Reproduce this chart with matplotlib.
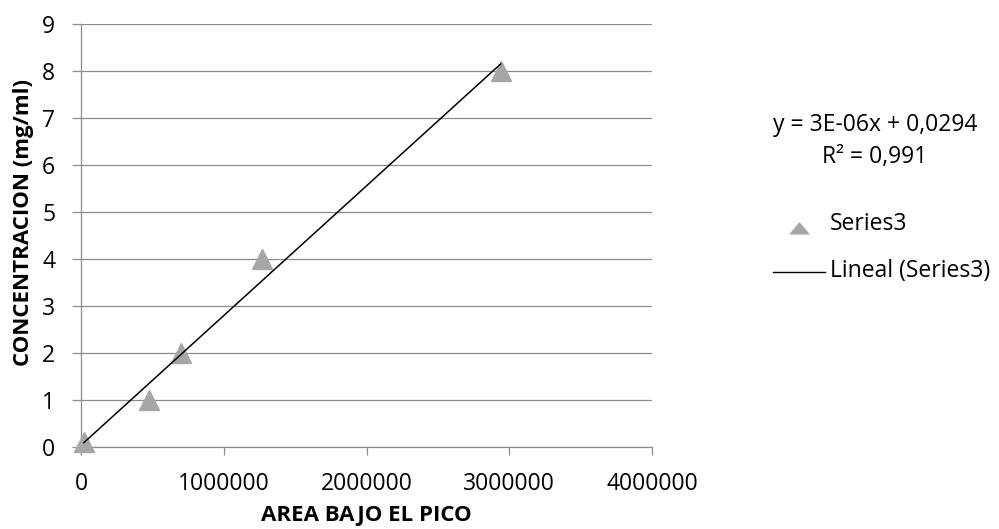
import numpy as np
import matplotlib.pyplot as plt
from matplotlib.lines import Line2D

plt.rcParams['font.family'] = ['Open Sans', 'DejaVu Sans']

# calibration points: peak area vs concentration
area = [20000, 477000, 700000, 1268000, 2940000]
conc = [0.1, 1, 2, 4, 8]
eq_text = "y = 3E-06x + 0,0294"
r2_text = "R² = 0,991"

fs = 16.5
W, H = 999, 529

fig = plt.figure(figsize=(W / 100, H / 100), dpi=100)
ax = fig.add_axes([81 / W, 82 / H, 571 / W, 423 / H])

# linear trendline over the data range
m, b = np.polyfit(area, conc, 1)
xs = np.array([min(area), max(area)])
ax.plot(area, conc, linestyle='none', marker='^', markersize=14,
        color='#A6A6A6', zorder=3, clip_on=False)
ax.plot(xs, m * xs + b, color='black', linewidth=1.1, zorder=4)

ax.set_xlim(0, 4000000)
ax.set_ylim(0, 9)
ax.set_xticks([0, 1000000, 2000000, 3000000, 4000000])
ax.set_xticklabels(['0', '1000000', '2000000', '3000000', '4000000'])
ax.set_yticks(range(10))
ax.yaxis.grid(True, color='#8C8C8C', linewidth=0.9)
ax.set_axisbelow(True)
for side in ['top', 'right']:
    ax.spines[side].set_visible(False)
for side in ['left', 'bottom']:
    ax.spines[side].set_color('#8C8C8C')
    ax.spines[side].set_linewidth(0.9)
ax.tick_params(axis='both', colors='#8C8C8C', labelcolor='black',
               labelsize=fs, width=0.9)
ax.tick_params(axis='y', length=6.5, pad=12)
ax.tick_params(axis='x', length=6, pad=12)

ax.set_xlabel('AREA BAJO EL PICO', fontsize=16, fontweight='bold', va='center')
ax.xaxis.set_label_coords(0.5, (447 - 516) / 423)
ax.set_ylabel('CONCENTRACION (mg/ml)', fontsize=16, fontweight='bold', va='center')
ax.yaxis.set_label_coords((24 - 81) / 571, (447 - 223) / 423)

# equation and legend at the right
fig.text(875 / W, 1 - 125 / H, eq_text, fontsize=fs, ha='center', va='center')
fig.text(875 / W, 1 - 157 / H, r2_text, fontsize=fs, ha='center', va='center')
flat_tri = [(-1, -0.6), (1, -0.6), (0, 0.6), (-1, -0.6)]
fig.add_artist(Line2D([799 / W], [1 - 228 / H], marker=flat_tri, markersize=13,
                      color='#A6A6A6', linestyle='none'))
fig.text(830 / W, 1 - 224 / H, 'Series3', fontsize=fs, ha='left', va='center')
fig.add_artist(Line2D([773 / W, 825 / W], [1 - 272 / H, 1 - 272 / H],
                      color='black', linewidth=1))
fig.text(830 / W, 1 - 271 / H, 'Lineal (Series3)', fontsize=fs, ha='left', va='center')

fig.savefig('out.png', dpi=100)
